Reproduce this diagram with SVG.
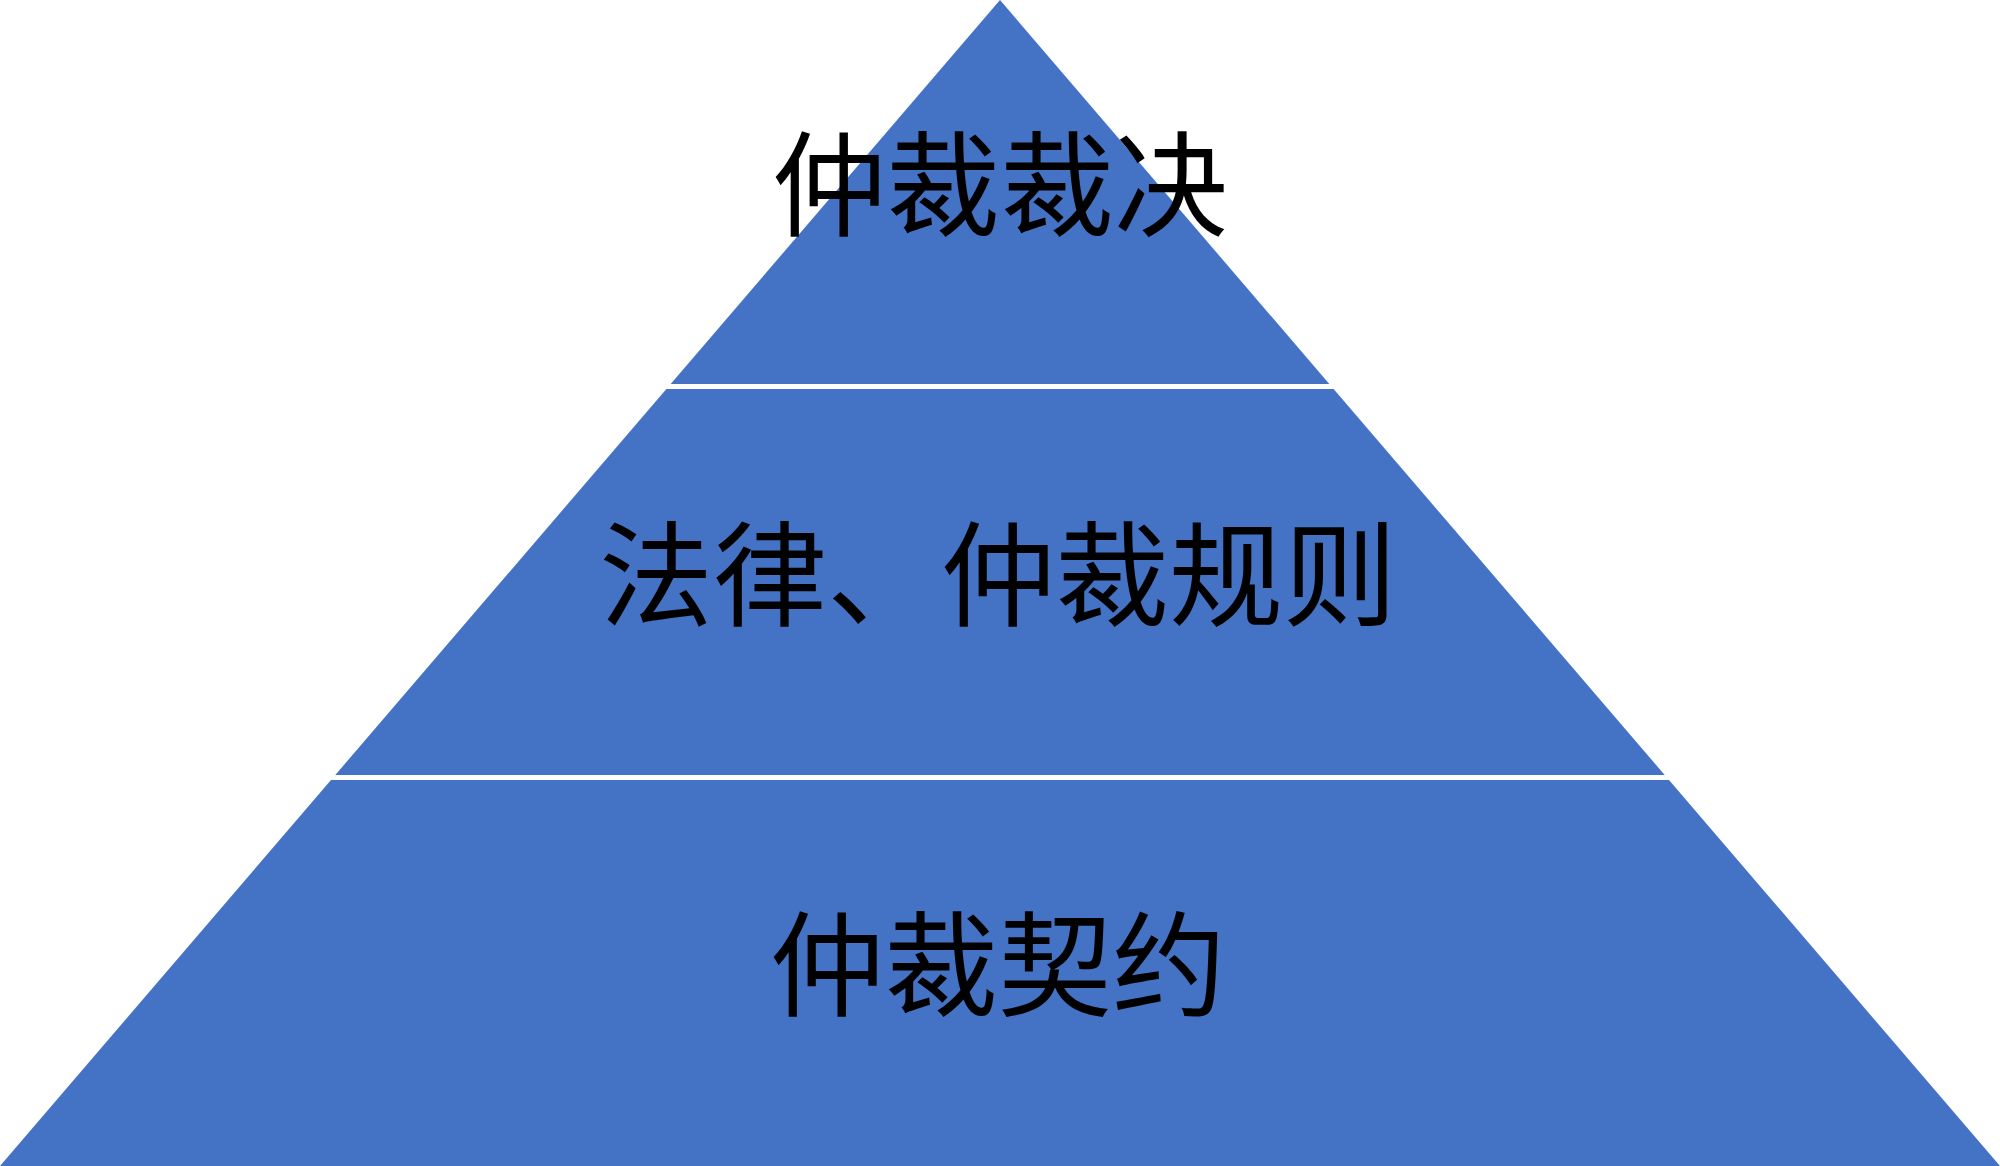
<svg xmlns="http://www.w3.org/2000/svg" width="2000" height="1166" viewBox="0 0 2000 1166">
<style>
.tier{fill:#4472C4;stroke:none}
.lbl{font-family:"Noto Sans CJK SC","Noto Sans CJK JP",sans-serif;font-size:114px;fill:#000;text-anchor:middle}
</style>
<rect x="0" y="0" width="2000" height="1166" fill="#fff"/>
<g id="tier-top">
<polygon class="tier" points="1000,0 1329.3,384 670.7,384"/>
<text class="lbl" x="1000" y="227">仲裁裁决</text>
</g>
<g id="tier-middle">
<polygon class="tier" points="666.4,389 1333.6,389 1664.7,775 335.3,775"/>
<text class="lbl" x="998" y="617">法律、仲裁规则</text>
</g>
<g id="tier-bottom">
<polygon class="tier" points="331,780 1669,780 2000,1166 0,1166"/>
<text class="lbl" x="998" y="1007">仲裁契约</text>
</g>
<g id="connectors"></g>
</svg>
